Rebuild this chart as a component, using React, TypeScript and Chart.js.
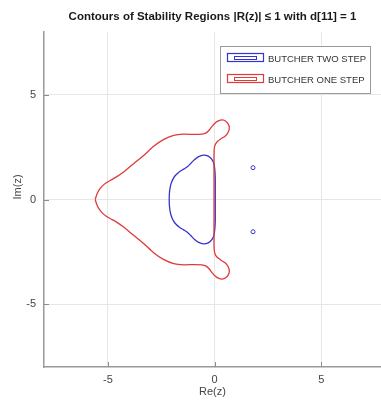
import React, { useEffect, useRef } from "react";
import { Chart, registerables } from "chart.js";

Chart.register(...registerables);

const TITLE = "Contours of Stability Regions |R(z)| \u2264 1 with d[11] = 1";
const X_LABEL = "Re(z)";
const Y_LABEL = "Im(z)";
const X_TICKS = [-5, 0, 5];
const Y_TICKS = [-5, 0, 5];

const SERIES_NAMES = ["BUTCHER TWO STEP", "BUTCHER ONE STEP"];
const SERIES_COLORS = ["#3434d0", "#e03a3a"];

// BUTCHER ONE STEP contour (red)
const ONE_STEP_X = [
  -5.6, -5.52, -5.42, -5.26, -5.08, -4.88, -4.6, -4.27, -3.8, -3.33, -2.86, -2.4, -1.92, -1.45, -0.98, -0.6, -0.4, -0.25,
  -0.1, 0.05, 0.2, 0.36, 0.52, 0.64, 0.69, 0.63, 0.5, 0.3, 0.12, 0.02, -0.02, -0.03, -0.03, -0.03, -0.03,
  -0.03, -0.03, -0.03, -0.02, 0.02, 0.12, 0.3, 0.5, 0.63, 0.69, 0.64, 0.52, 0.36, 0.2, 0.05, -0.1, -0.25, -0.4,
  -0.6, -0.98, -1.45, -1.92, -2.4, -2.86, -3.33, -3.8, -4.27, -4.6, -4.88, -5.08, -5.26, -5.42, -5.52, -5.6,
];
const ONE_STEP_Y = [
  0, 0.25, 0.45, 0.65, 0.8, 0.92, 1.08, 1.31, 1.71, 2.1, 2.54, 2.86, 3.06, 3.12, 3.11, 3.12, 3.18, 3.32,
  3.52, 3.68, 3.77, 3.8, 3.74, 3.6, 3.42, 3.2, 3.03, 2.9, 2.76, 2.6, 2.4, 2.0, 1.4, 0.7, 0,
  -0.7, -1.4, -2.0, -2.4, -2.6, -2.76, -2.9, -3.03, -3.2, -3.42, -3.6, -3.74, -3.8, -3.77, -3.68, -3.52, -3.32, -3.18,
  -3.12, -3.11, -3.12, -3.06, -2.86, -2.54, -2.1, -1.71, -1.31, -1.08, -0.92, -0.8, -0.65, -0.45, -0.25, 0,
];

// BUTCHER TWO STEP contour (blue)
const TWO_STEP_X = [
  -2.13, -2.12, -2.08, -2.02, -1.93, -1.82, -1.65, -1.45, -1.28, -1.12, -0.95, -0.75, -0.52, -0.3, -0.13, -0.03, 0.01, 0.03, 0.03, 0.03,
  0.03, 0.03, 0.01, -0.03, -0.13, -0.3, -0.52, -0.75, -0.95, -1.12, -1.28, -1.45, -1.65, -1.82, -1.93, -2.02, -2.08, -2.12, -2.13,
];
const TWO_STEP_Y = [
  0, 0.3, 0.6, 0.82, 1.02, 1.17, 1.33, 1.45, 1.56, 1.72, 1.9, 2.05, 2.12, 2.07, 1.92, 1.7, 1.4, 1.0, 0.5, 0,
  -0.5, -1.0, -1.4, -1.7, -1.92, -2.07, -2.12, -2.05, -1.9, -1.72, -1.56, -1.45, -1.33, -1.17, -1.02, -0.82, -0.6, -0.3, 0,
];

// tiny isolated TWO STEP contours
const TWO_STEP_ISLAND_X = [1.8, 1.8];
const TWO_STEP_ISLAND_Y = [1.52, -1.54];

const X_MIN = -8;
const X_MAX = 7.8;
const Y_MIN = -8;
const Y_MAX = 8;

const FONT = "'Liberation Sans', Arial, Helvetica, sans-serif";

const toPoints = (xs: number[], ys: number[]) => xs.map((x, i) => ({ x, y: ys[i] }));

const decorPlugin = {
  id: "decor",
  afterDraw(chart: any) {
    const { ctx, chartArea, scales } = chart;
    const xs = scales.x;
    const ys = scales.y;
    ctx.save();
    // inward tick marks
    ctx.strokeStyle = "#8c8c8c";
    ctx.lineWidth = 1;
    X_TICKS.forEach((v) => {
      const px = Math.round(xs.getPixelForValue(v)) + 0.5;
      ctx.beginPath();
      ctx.moveTo(px, chartArea.bottom);
      ctx.lineTo(px, chartArea.bottom - 5);
      ctx.stroke();
    });
    Y_TICKS.forEach((v) => {
      const py = Math.round(ys.getPixelForValue(v)) + 0.5;
      ctx.beginPath();
      ctx.moveTo(chartArea.left, py);
      ctx.lineTo(chartArea.left + 5, py);
      ctx.stroke();
    });

    // y axis label
    ctx.fillStyle = "#444";
    ctx.font = `11px ${FONT}`;
    ctx.textAlign = "center";
    ctx.textBaseline = "middle";
    ctx.translate(18, ys.getPixelForValue(0.6));
    ctx.rotate(-Math.PI / 2);
    ctx.fillText(Y_LABEL, 0, 0);
    ctx.restore();

    // legend
    ctx.save();
    const right = chartArea.right - 10;
    const top = chartArea.top + 14;
    const w = 151;
    const h = 48;
    const left = right - w;
    ctx.fillStyle = "#ffffff";
    ctx.fillRect(left, top, w, h);
    ctx.strokeStyle = "#9a9a9a";
    ctx.lineWidth = 1;
    ctx.strokeRect(left + 0.5, top + 0.5, w - 1, h - 1);
    ctx.font = `9.5px ${FONT}`;
    ctx.textAlign = "left";
    ctx.textBaseline = "middle";
    SERIES_NAMES.forEach((name, i) => {
      const cy = top + 12 + i * 21;
      const bx = left + 7;
      ctx.strokeStyle = SERIES_COLORS[i];
      ctx.lineWidth = 1.2;
      ctx.strokeRect(bx + 0.5, cy - 4.5, 36, 8);
      ctx.lineWidth = 1;
      ctx.strokeRect(bx + 7.5, cy - 1.5, 22, 3);
      ctx.fillStyle = "#333";
      ctx.fillText(name, left + 48, cy + 1);
    });
    ctx.restore();
  },
};

export default function App() {
  const canvasRef = useRef<HTMLCanvasElement | null>(null);

  useEffect(() => {
    const canvas = canvasRef.current;
    if (!canvas) return;
    const chart = new Chart(canvas, {
      type: "scatter",
      data: {
        datasets: [
          {
            label: SERIES_NAMES[1],
            data: toPoints(ONE_STEP_X, ONE_STEP_Y),
            showLine: true,
            borderColor: SERIES_COLORS[1],
            borderWidth: 1.3,
            pointRadius: 0,
            tension: 0.25,
            fill: false,
          },
          {
            label: SERIES_NAMES[0],
            data: toPoints(TWO_STEP_X, TWO_STEP_Y),
            showLine: true,
            borderColor: SERIES_COLORS[0],
            borderWidth: 1.3,
            pointRadius: 0,
            tension: 0.25,
            fill: false,
          },
          {
            label: SERIES_NAMES[0] + " (islands)",
            data: toPoints(TWO_STEP_ISLAND_X, TWO_STEP_ISLAND_Y),
            showLine: false,
            borderColor: SERIES_COLORS[0],
            backgroundColor: "rgba(0,0,0,0)",
            pointRadius: 2,
            pointBorderWidth: 1,
            pointBorderColor: SERIES_COLORS[0],
            pointBackgroundColor: "rgba(0,0,0,0)",
          },
        ],
      },
      options: {
        responsive: false,
        animation: false,
        devicePixelRatio: 1,
        layout: { autoPadding: false, padding: { left: 0, right: 0, top: 0, bottom: 2 } },
        plugins: {
          legend: { display: false },
          tooltip: { enabled: false },
          title: {
            display: true,
            text: TITLE,
            fullSize: false,
            color: "#1a1a1a",
            font: { family: FONT, size: 11.5, weight: "bold" },
            padding: { top: 9.5, bottom: 8.7 },
          },
        },
        scales: {
          x: {
            type: "linear",
            min: X_MIN,
            max: X_MAX,
            afterBuildTicks: (scale: any) => {
              scale.ticks = X_TICKS.map((v) => ({ value: v }));
            },
            afterFit: (scale: any) => {
              scale.height = 36;
            },
            grid: { color: "#e6e6e6", lineWidth: 1, drawTicks: false },
            border: { display: true, color: "#9a9a9a", width: 1.5 },
            ticks: { color: "#444", font: { family: FONT, size: 11 }, padding: 6 },
            title: {
              display: true,
              text: X_LABEL,
              color: "#444",
              font: { family: FONT, size: 11 },
              padding: { top: 1, bottom: 4 },
            },
          },
          y: {
            type: "linear",
            min: Y_MIN,
            max: Y_MAX,
            afterBuildTicks: (scale: any) => {
              scale.ticks = Y_TICKS.map((v) => ({ value: v }));
            },
            afterFit: (scale: any) => {
              scale.width = 44;
            },
            grid: { color: "#e6e6e6", lineWidth: 1, drawTicks: false },
            border: { display: true, color: "#9a9a9a", width: 1.5 },
            ticks: { color: "#444", font: { family: FONT, size: 11 }, padding: 8 },
          },
        },
      },
      plugins: [decorPlugin],
    } as any);
    return () => chart.destroy();
  }, []);

  return (
    <div style={{ position: "absolute", left: 0, top: 0, width: 381, height: 405, background: "#fff" }}>
      <canvas ref={canvasRef} width={381} height={405} style={{ display: "block" }} />
    </div>
  );
}
